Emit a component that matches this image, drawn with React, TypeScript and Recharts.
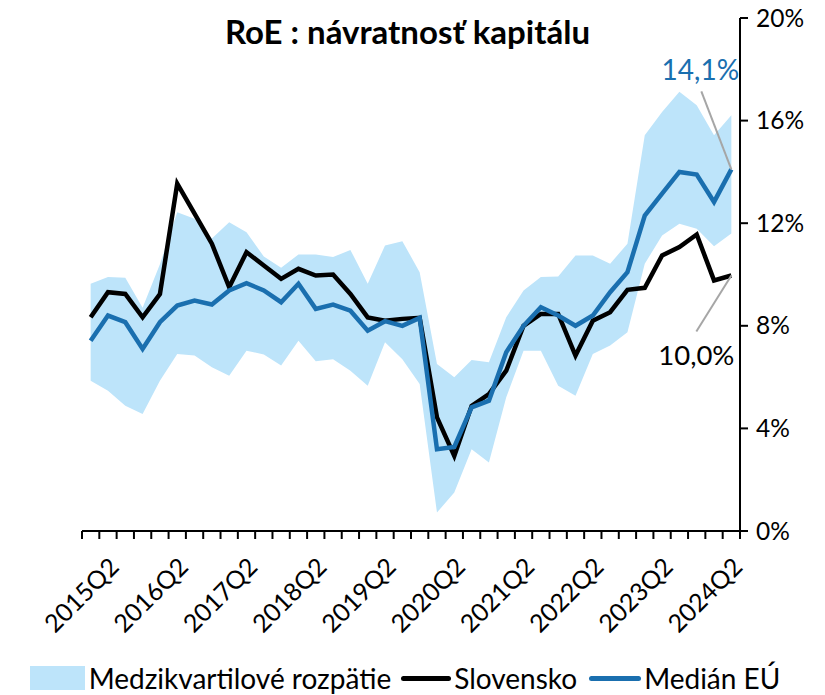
import React from 'react';
import { ComposedChart, Area, Line, XAxis, YAxis, Legend, LabelList } from 'recharts';

const quarters = [
    '2015Q1', '2015Q2', '2015Q3', '2015Q4', '2016Q1', '2016Q2', '2016Q3', '2016Q4',
    '2017Q1', '2017Q2', '2017Q3', '2017Q4', '2018Q1', '2018Q2', '2018Q3', '2018Q4',
    '2019Q1', '2019Q2', '2019Q3', '2019Q4', '2020Q1', '2020Q2', '2020Q3', '2020Q4',
    '2021Q1', '2021Q2', '2021Q3', '2021Q4', '2022Q1', '2022Q2', '2022Q3', '2022Q4',
    '2023Q1', '2023Q2', '2023Q3', '2023Q4', '2024Q1', '2024Q2',
];

// RoE v %
const slovensko = [
    8.33, 9.31, 9.24, 8.33, 9.24, 13.54, 12.37, 11.2, 9.5, 10.87, 10.35, 9.83, 10.22,
    9.96, 10.0, 9.24, 8.33, 8.2, 8.27, 8.31, 4.43, 2.93, 4.88, 5.34, 6.25, 8.0, 8.46,
    8.46, 6.84, 8.2, 8.53, 9.4, 9.48, 10.74, 11.07, 11.56, 9.77, 9.96,
];
const medianEU = [
    7.42, 8.4, 8.14, 7.1, 8.14, 8.79, 8.98, 8.83, 9.38, 9.66, 9.38, 8.92, 9.64, 8.66,
    8.83, 8.59, 7.81, 8.18, 8.0, 8.31, 3.19, 3.28, 4.82, 5.08, 6.97, 8.0, 8.72, 8.4,
    8.0, 8.4, 9.31, 10.09, 12.3, 13.15, 14.0, 13.9, 12.83, 14.1,
];
const q1 = [
    5.86, 5.47, 4.88, 4.56, 5.86, 6.9, 6.84, 6.38, 6.05, 7.03, 6.88, 6.45, 7.42, 6.62,
    6.7, 6.25, 5.66, 7.36, 6.7, 5.73, 0.72, 1.5, 3.19, 2.67, 5.21, 7.03, 7.03, 5.66,
    5.27, 6.9, 7.23, 7.75, 10.42, 11.52, 11.98, 11.78, 11.1, 11.6,
];
const q3 = [
    9.64, 9.9, 9.87, 8.7, 10.4, 12.43, 12.17, 11.4, 12.04, 11.65, 10.7, 10.26, 10.78,
    10.78, 10.68, 10.96, 9.64, 11.13, 11.3, 10.09, 6.51, 5.99, 6.67, 6.58, 8.33, 9.38,
    9.9, 9.92, 10.74, 10.74, 10.42, 11.2, 15.43, 16.34, 17.12, 16.6, 15.43, 16.21,
];

const yTicks = [0, 4, 8, 12, 16, 20];

const data = quarters.map((q, i) => ({
    i,
    q,
    sk: slovensko[i],
    eu: medianEU[i],
    band: [q1[i], q3[i]],
}));

const lastIdx = quarters.length - 1;
// tick marks sit between categories, labels only on Q2
const tickMarks = [...quarters.map((_, i) => i - 0.5), lastIdx + 0.5];
const labelTicks = quarters.map((q, i) => (q.endsWith('Q2') ? i : -1)).filter((i) => i >= 0);

const BAND = '#BDE4FA';
const BLUE = '#1A6FAF';
const FONT = "Lato, 'Open Sans', sans-serif";

const fmt = (v: number) => `${v.toFixed(1).replace('.', ',')}%`;

const MedianLabel = (props: any) => {
    const { x, y, index, value } = props;
    if (index !== lastIdx) return null;
    return (
        <g>
            <line x1={x} y1={y} x2={x - 30} y2={y - 78} stroke="#A6A6A6" strokeWidth={2} />
            <text x={x - 31} y={y - 89} textAnchor="middle" fill={BLUE} fontSize={28} fontFamily={FONT}>
                {fmt(value)}
            </text>
        </g>
    );
};

const SkLabel = (props: any) => {
    const { x, y, index, value } = props;
    if (index !== lastIdx) return null;
    return (
        <g>
            <line x1={x} y1={y} x2={x - 35} y2={y + 56} stroke="#A6A6A6" strokeWidth={2} />
            <text x={x - 35} y={y + 89} textAnchor="middle" fill="#000" fontSize={27.5} fontFamily={FONT}>
                {fmt(value)}
            </text>
        </g>
    );
};

const LegendContent = () => (
    <div style={{ display: 'flex', justifyContent: 'center', alignItems: 'center', fontFamily: FONT, fontSize: 28, color: '#000', paddingTop: 2 }}>
        <span style={{ width: 55, height: 24, background: BAND, marginRight: 4 }} />
        <span style={{ marginRight: 10 }}>Medzikvartilové rozpätie</span>
        <span style={{ width: 50, height: 5, borderRadius: 3, background: '#000', marginRight: 3 }} />
        <span style={{ marginRight: 12 }}>Slovensko</span>
        <span style={{ width: 52, height: 5, borderRadius: 3, background: BLUE, marginRight: 3 }} />
        <span>Medián EÚ</span>
    </div>
);

export default function App() {
    return (
        <div style={{ position: 'absolute', left: 0, top: 0, width: 825, height: 695, background: '#fff', fontFamily: FONT }}>
            <div style={{ position: 'absolute', left: 0, width: 815, top: 11, textAlign: 'center', fontWeight: 700, fontSize: 33, lineHeight: '40px', color: '#000', zIndex: 2 }}>
                RoE : návratnosť kapitálu
            </div>
            <ComposedChart width={825} height={695} data={data} margin={{ top: 18, right: 0, left: 82, bottom: 0 }}>
                <XAxis
                    xAxisId="cat"
                    type="number"
                    dataKey="i"
                    domain={[-0.5, lastIdx + 0.5]}
                    ticks={tickMarks}
                    interval={0}
                    tickFormatter={() => ''}
                    tickSize={8}
                    height={1}
                    axisLine={{ stroke: '#000', strokeWidth: 2 }}
                    tickLine={{ stroke: '#000', strokeWidth: 2 }}
                />
                <XAxis
                    xAxisId="lab"
                    type="number"
                    dataKey="i"
                    domain={[-0.5, lastIdx + 0.5]}
                    ticks={labelTicks}
                    interval={0}
                    tickFormatter={(i: number) => quarters[i]}
                    angle={-45}
                    textAnchor="end"
                    tickLine={false}
                    axisLine={false}
                    tickSize={0}
                    tickMargin={24}
                    height={127}
                    tick={{ fontSize: 25, fill: '#000', fontFamily: FONT }}
                />
                <YAxis
                    orientation="right"
                    domain={[0, 20]}
                    ticks={yTicks}
                    interval={0}
                    width={85}
                    tickSize={8}
                    tickMargin={8}
                    tickFormatter={(v: number) => `${v}%`}
                    axisLine={{ stroke: '#000', strokeWidth: 2 }}
                    tickLine={{ stroke: '#000', strokeWidth: 2 }}
                    tick={{ fontSize: 24.5, fill: '#000', fontFamily: FONT }}
                />
                <Area
                    xAxisId="cat"
                    dataKey="band"
                    stroke="none"
                    fill={BAND}
                    fillOpacity={1}
                    isAnimationActive={false}
                />
                <Line
                    xAxisId="cat"
                    dataKey="sk"
                    stroke="#000"
                    strokeWidth={4.5}
                    dot={false}
                    isAnimationActive={false}
                >
                    <LabelList dataKey="sk" content={<SkLabel />} />
                </Line>
                <Line
                    xAxisId="cat"
                    dataKey="eu"
                    stroke={BLUE}
                    strokeWidth={4.5}
                    dot={false}
                    isAnimationActive={false}
                >
                    <LabelList dataKey="eu" content={<MedianLabel />} />
                </Line>
                <Legend verticalAlign="bottom" height={36} wrapperStyle={{ left: 0, width: 810 }} content={<LegendContent />} />
            </ComposedChart>
        </div>
    );
}
